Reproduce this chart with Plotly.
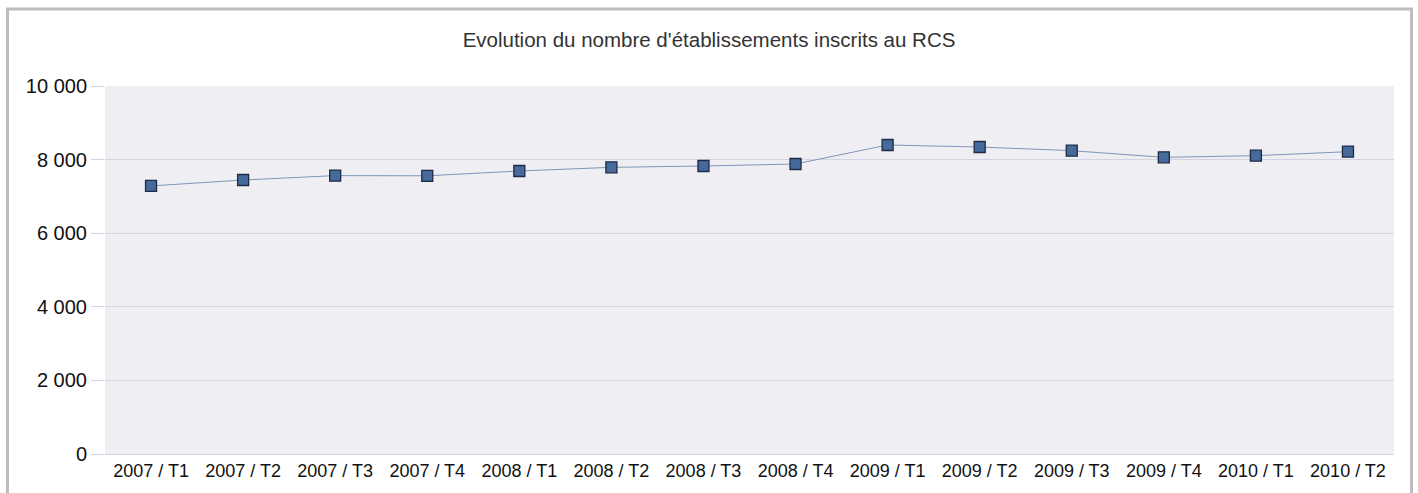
import plotly.graph_objects as go

categories = ["2007 / T1", "2007 / T2", "2007 / T3", "2007 / T4",
              "2008 / T1", "2008 / T2", "2008 / T3", "2008 / T4",
              "2009 / T1", "2009 / T2", "2009 / T3", "2009 / T4",
              "2010 / T1", "2010 / T2"]
etablissements = [7285, 7445, 7565, 7560, 7690, 7790, 7826, 7880,
                  8397, 8342, 8242, 8062, 8107, 8215]
y_tick_vals = [0, 2000, 4000, 6000, 8000, 10000]
y_tick_text = ["0", "2 000", "4 000", "6 000", "8 000", "10 000"]

W, H = 1418, 493
L, R, T, B = 105, 24, 86, 39
pw, ph = W - L - R, H - T - B

fig = go.Figure()
fig.add_trace(go.Scatter(
    x=categories, y=etablissements, mode="lines+markers",
    line=dict(color="#7F96BA", width=1),
    marker=dict(symbol="square", size=11, color="#466A9B",
                line=dict(color="#1E2B45", width=1.3)),
    showlegend=False,
))

grid = "#D3D3E3"
fig.update_layout(
    width=W, height=H,
    margin=dict(l=L, r=R, t=T, b=B),
    paper_bgcolor="white", plot_bgcolor="#EFEEF3",
    font=dict(family="Liberation Sans, Arial, sans-serif", color="#111111"),
    title=dict(text="Evolution du nombre d'établissements inscrits au RCS",
               x=0.5, xanchor="center", y=1 - 40 / H, yanchor="middle",
               font=dict(size=20.5, color="#333333")),
    xaxis=dict(type="category", range=[-0.5, len(categories) - 0.5],
               showgrid=False, showline=False, ticks="",
               ticklabelstandoff=4,
               tickfont=dict(size=18, color="#111111")),
    yaxis=dict(range=[0, 10000], tickvals=y_tick_vals, ticktext=y_tick_text,
               showgrid=True, gridcolor=grid, gridwidth=1,
               zeroline=True, zerolinecolor=grid, zerolinewidth=1,
               ticks="outside", ticklen=13, tickcolor=grid, tickwidth=1,
               tickfont=dict(size=20, color="#111111"), fixedrange=True),
    shapes=[dict(type="rect", xref="paper", yref="paper",
                 x0=(7.5 - L) / pw, x1=(1411.5 - L) / pw,
                 y0=-0.3, y1=(T + ph - 9) / ph,
                 line=dict(color="#BDBDBD", width=3), layer="below")],
)

fig.write_html("out.html",
               config={"displayModeBar": False},
               post_script="document.body.style.margin='0';document.body.style.overflow='hidden';")
